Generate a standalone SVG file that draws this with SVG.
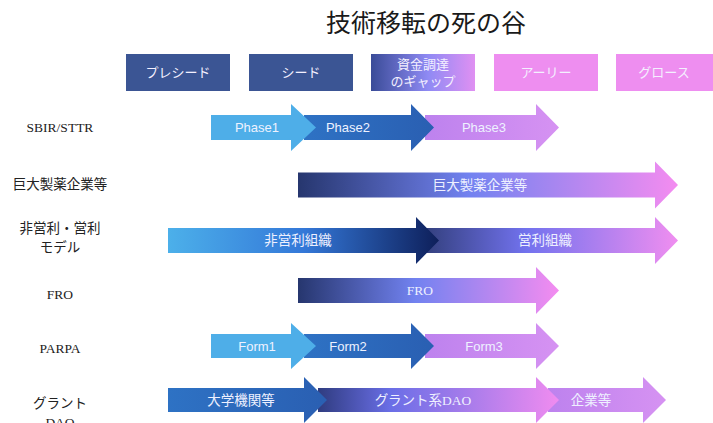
<svg xmlns="http://www.w3.org/2000/svg" width="713" height="423" viewBox="0 0 713 423">
<style>
.title{font-family:"Liberation Serif","Noto Sans CJK JP",serif;font-size:25px;fill:#1a1a1a;text-anchor:middle}
.lbl{font-family:"Liberation Serif","Noto Sans CJK JP",serif;font-size:13.5px;fill:#222;text-anchor:middle}
.hdr{font-family:"Liberation Serif","Noto Sans CJK JP",serif;font-size:13px;fill:#f4f0ff;text-anchor:middle}
.al{font-family:"Liberation Sans","Noto Sans CJK JP",sans-serif;font-size:13px;fill:#eef2ff;text-anchor:middle}
.aj{font-family:"Liberation Serif","Noto Sans CJK JP",serif;font-size:13.5px;fill:#eef0ff;text-anchor:middle}
.dark{fill:#3b5594}
.pink{fill:#ee8ef0}
</style>
<defs>
<linearGradient id="gGap" x1="0" y1="0" x2="1" y2="0"><stop offset="0" stop-color="#3a4c98"/><stop offset="0.55" stop-color="#8f8af4"/><stop offset="1" stop-color="#e090f2"/></linearGradient>
<linearGradient id="gP2" x1="0" y1="0" x2="1" y2="0"><stop offset="0" stop-color="#2e72c4"/><stop offset="1" stop-color="#2a5fb2"/></linearGradient>
<linearGradient id="gP3" x1="0" y1="0" x2="1" y2="0"><stop offset="0" stop-color="#bd82ee"/><stop offset="1" stop-color="#d692f2"/></linearGradient>
<linearGradient id="gBig" x1="0" y1="0" x2="1" y2="0"><stop offset="0" stop-color="#26366e"/><stop offset="0.45" stop-color="#7282f0"/><stop offset="1" stop-color="#f48cf0"/></linearGradient>
<linearGradient id="gNp" x1="0" y1="0" x2="1" y2="0"><stop offset="0" stop-color="#4cb0ea"/><stop offset="0.5" stop-color="#3478d8"/><stop offset="1" stop-color="#0e1f5a"/></linearGradient>
<linearGradient id="gFp" x1="0" y1="0" x2="1" y2="0"><stop offset="0" stop-color="#33407e"/><stop offset="0.4" stop-color="#7272ee"/><stop offset="1" stop-color="#f08ef0"/></linearGradient>
<linearGradient id="gDao" x1="0" y1="0" x2="1" y2="0"><stop offset="0" stop-color="#2f3c80"/><stop offset="0.3" stop-color="#6a6ee6"/><stop offset="1" stop-color="#f08cf0"/></linearGradient>
</defs>

<text class="title" x="426" y="32">技術移転の死の谷</text>

<g id="header-preseed"><rect class="dark" x="126" y="54" width="104" height="37"/><text class="hdr" x="178" y="77">プレシード</text></g>
<g id="header-seed"><rect class="dark" x="249" y="54" width="104" height="37"/><text class="hdr" x="301" y="77">シード</text></g>
<g id="header-gap"><rect fill="url(#gGap)" x="371" y="54" width="104" height="37"/><text class="hdr" x="423" y="69">資金調達</text><text class="hdr" x="423" y="86">のギャップ</text></g>
<g id="header-early"><rect class="pink" x="494" y="54" width="104" height="37"/><text class="hdr" x="546" y="77">アーリー</text></g>
<g id="header-growth"><rect class="pink" x="616" y="54" width="104" height="37"/><text class="hdr" x="664" y="77">グロース</text></g>

<g id="labels">
<text class="lbl" x="60" y="132">SBIR/STTR</text>
<text class="lbl" x="60" y="189">巨大製薬企業等</text>
<text class="lbl" x="60" y="233">非営利・営利</text>
<text class="lbl" x="60" y="252">モデル</text>
<text class="lbl" x="60" y="299">FRO</text>
<text class="lbl" x="60" y="353">PARPA</text>
<text class="lbl" x="60" y="408">グラント</text>
<text class="lbl" x="60" y="427">DAO</text>
</g>

<g id="connectors">
<g id="row-sbir">
<path fill="url(#gP3)" d="M425 115H536V104L559 127.5L536 151V140H425Z"/>
<path fill="url(#gP2)" d="M304 115H411V104L434 127.5L411 151V140H304Z"/>
<path fill="#4eaee8" d="M211 115H291V104L316 127.5L291 151V140H211Z"/>
<text class="al" x="257" y="132">Phase1</text>
<text class="al" x="348" y="132">Phase2</text>
<text class="al" x="484" y="132">Phase3</text>
</g>
<g id="row-pharma">
<path fill="url(#gBig)" d="M298 172.5H655V161.5L678 185L655 208.5V197.5H298Z"/>
<text class="aj" x="480" y="190">巨大製薬企業等</text>
</g>
<g id="row-npo">
<path fill="url(#gFp)" d="M425 228H655V217L678 240.5L655 264V253H425Z"/>
<path fill="url(#gNp)" d="M168 228H416V217L439 240.5L416 264V253H168Z"/>
<text class="aj" x="298" y="245">非営利組織</text>
<text class="aj" x="545" y="245">営利組織</text>
</g>
<g id="row-fro">
<path fill="url(#gBig)" d="M298 278H536V267L559 290.5L536 314V303H298Z"/>
<text class="aj" x="420" y="295">FRO</text>
</g>
<g id="row-parpa">
<path fill="url(#gP3)" d="M425 334H536V323L559 346L536 369V358H425Z"/>
<path fill="url(#gP2)" d="M304 334H411V323L434 346L411 369V358H304Z"/>
<path fill="#4eaee8" d="M211 334H291V323L316 346L291 369V358H211Z"/>
<text class="al" x="257" y="351">Form1</text>
<text class="al" x="348" y="351">Form2</text>
<text class="al" x="484" y="351">Form3</text>
</g>
<g id="row-grant">
<path fill="url(#gP3)" d="M548 388H643V377L666 400L643 423V412H548Z"/>
<path fill="url(#gDao)" d="M318 388H536V377L559 400L536 423V412H318Z"/>
<path fill="url(#gP2)" d="M168 388H304V377L327 400L304 423V412H168Z"/>
<text class="aj" x="241" y="405">大学機関等</text>
<text class="aj" x="423" y="405">グラント系DAO</text>
<text class="aj" x="591" y="405">企業等</text>
</g>
</g>
</svg>
